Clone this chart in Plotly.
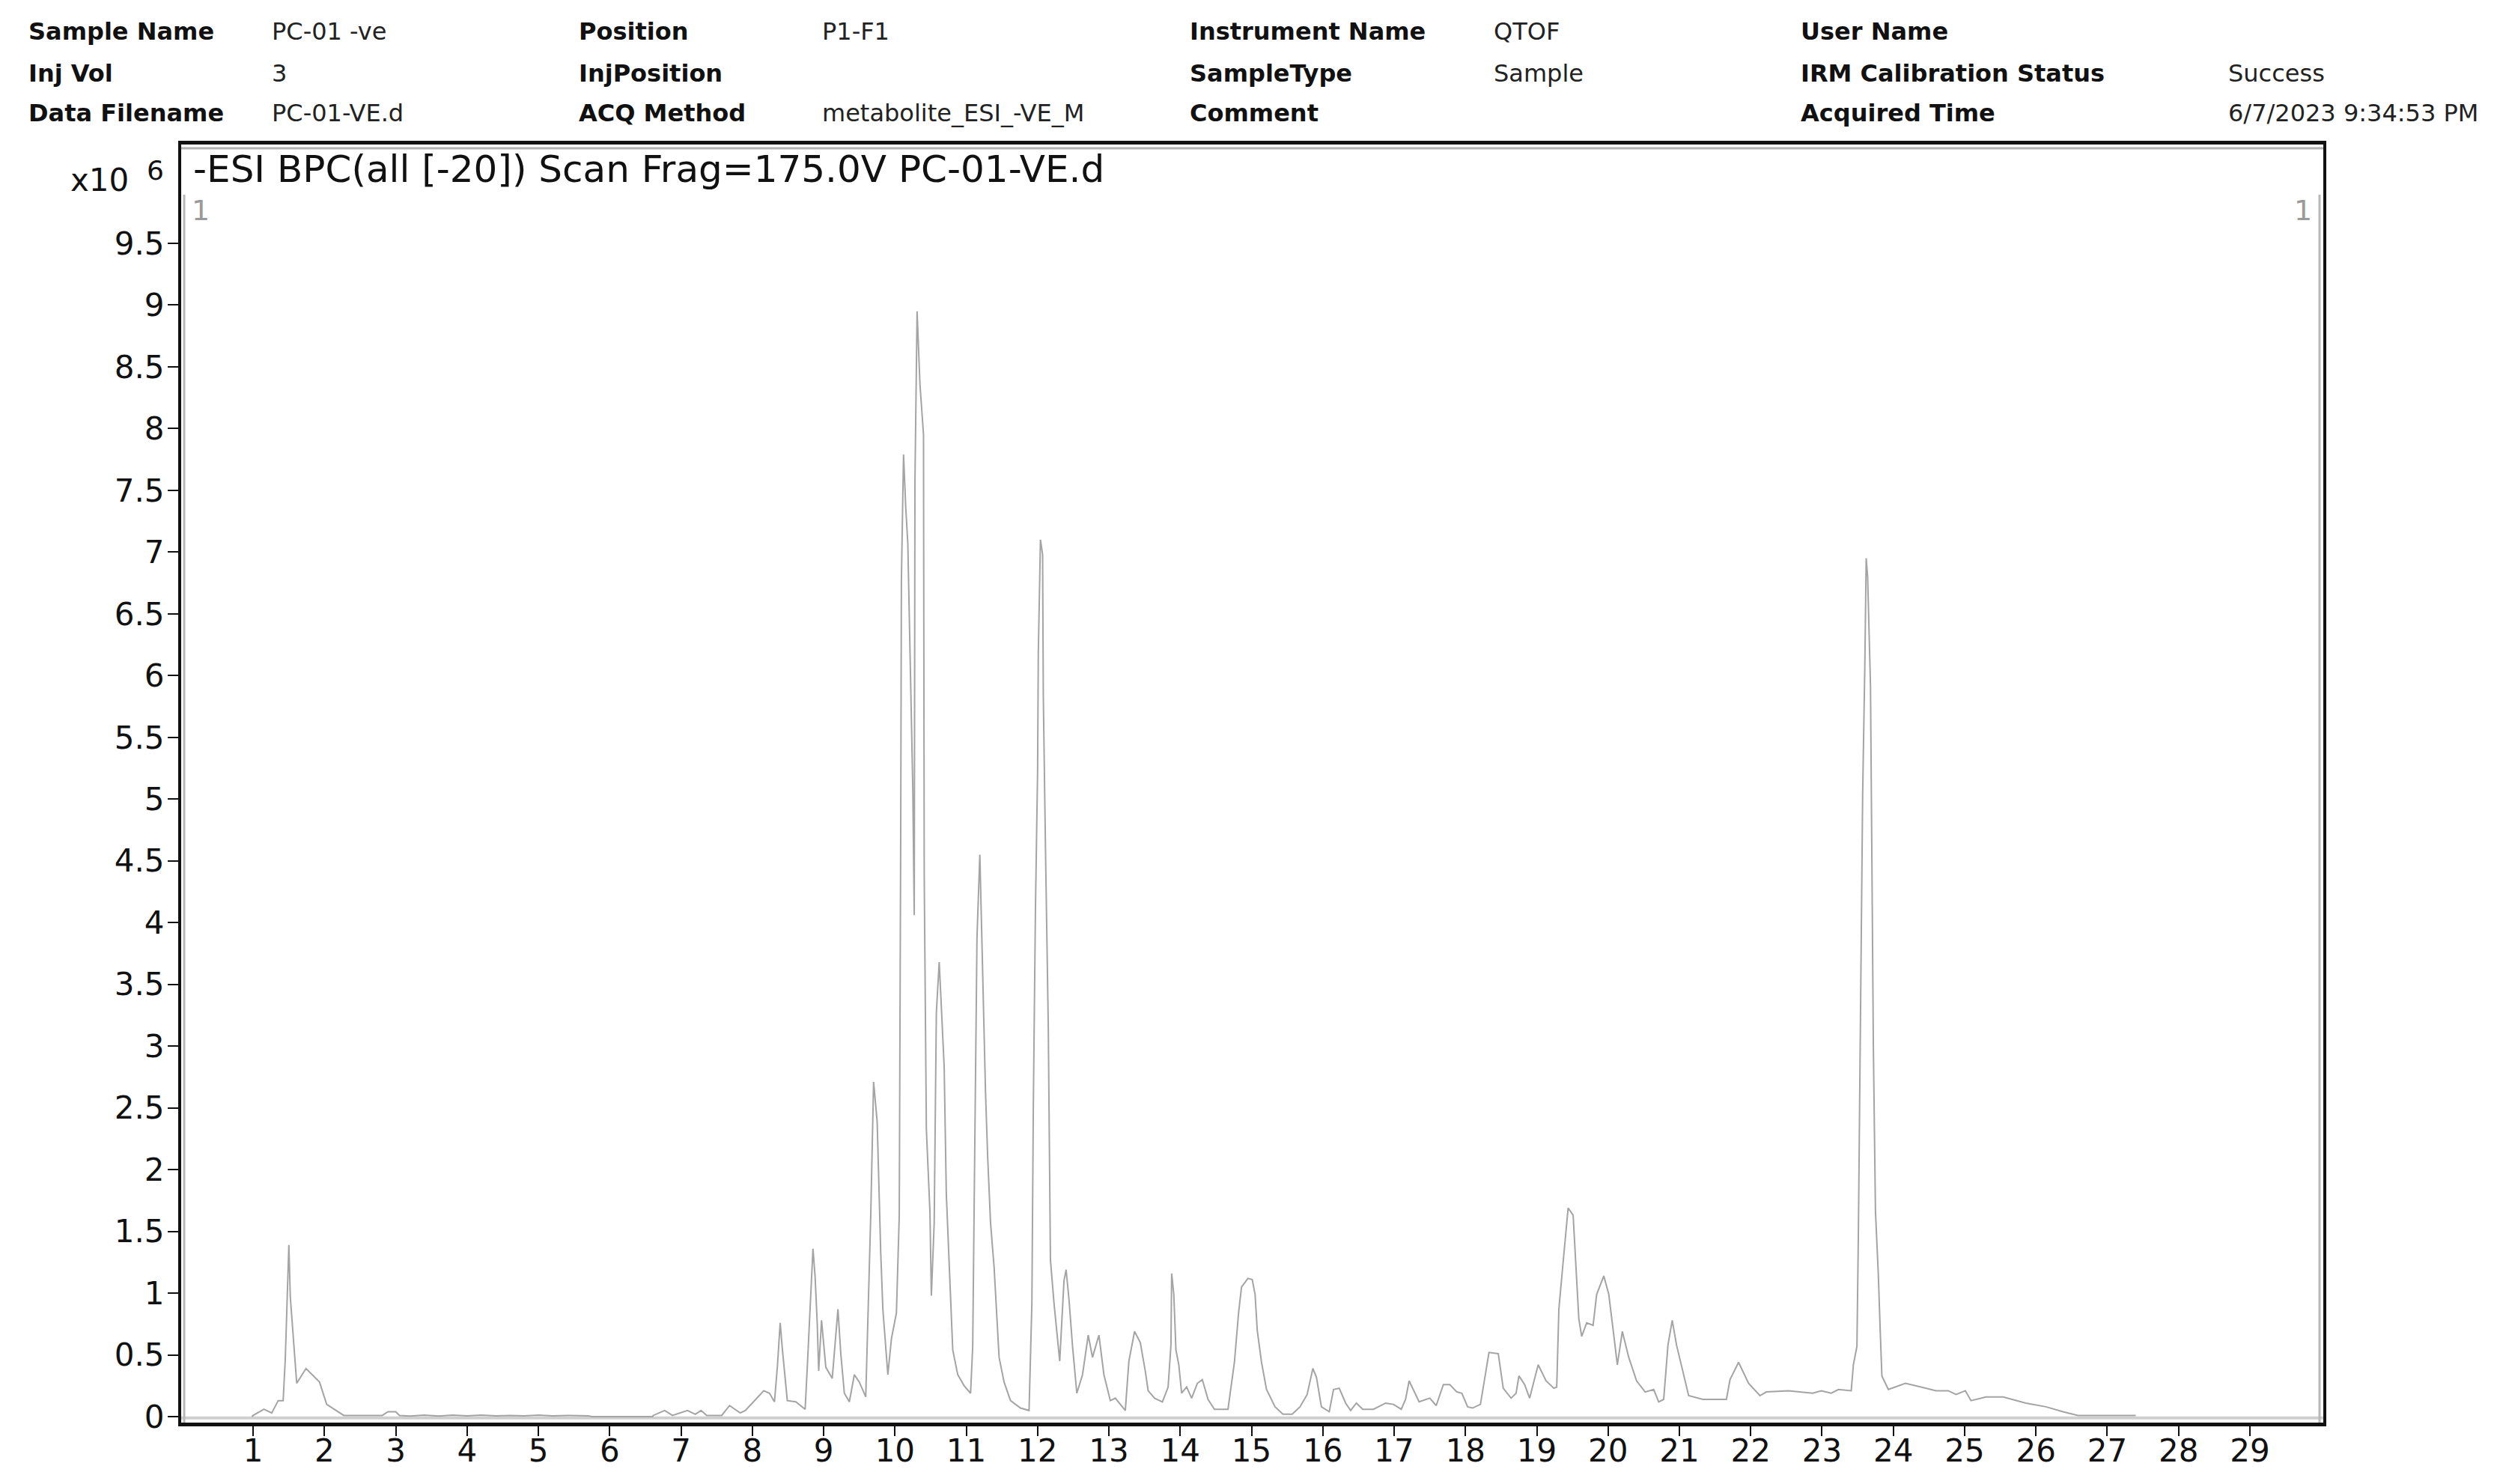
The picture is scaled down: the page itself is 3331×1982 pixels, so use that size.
import plotly.graph_objects as go

# retention time (min) and base peak intensity (x10^6 counts)
rt = [
    0.98, 1.00, 1.15, 1.26, 1.35, 1.42, 1.45, 1.48, 1.50, 1.52, 1.56, 1.61, 1.74, 1.93, 2.03,
    2.17, 2.27, 2.50, 2.81, 2.89, 3.00, 3.05, 3.20, 3.40, 3.60, 3.80, 4.00, 4.20, 4.40, 4.60,
    4.80, 5.00, 5.20, 5.40, 5.70, 5.75, 6.60, 6.61, 6.77, 6.88, 7.09, 7.20, 7.28, 7.36, 7.57,
    7.68, 7.83, 7.90, 8.00, 8.16, 8.24, 8.31, 8.35, 8.39, 8.42, 8.49, 8.61, 8.74, 8.77, 8.85,
    8.88, 8.91, 8.93, 8.97, 9.03, 9.12, 9.20, 9.24, 9.29, 9.36, 9.43, 9.50, 9.59, 9.62, 9.66,
    9.70, 9.75, 9.80, 9.83, 9.90, 9.95, 10.02, 10.06, 10.08, 10.09, 10.12, 10.15, 10.18, 10.21,
    10.25, 10.27, 10.28, 10.31, 10.35, 10.40, 10.41, 10.44, 10.49, 10.51, 10.55, 10.58, 10.62,
    10.65, 10.69, 10.72, 10.76, 10.81, 10.88, 10.97, 11.06, 11.09, 11.11, 11.13, 11.15, 11.19,
    11.21, 11.24, 11.27, 11.30, 11.34, 11.39, 11.43, 11.46, 11.53, 11.62, 11.76, 11.88, 11.92,
    11.94, 11.97, 12.00, 12.01, 12.04, 12.07, 12.08, 12.11, 12.15, 12.18, 12.23, 12.31, 12.37,
    12.40, 12.44, 12.49, 12.55, 12.63, 12.71, 12.77, 12.86, 12.93, 13.02, 13.09, 13.23, 13.28,
    13.36, 13.44, 13.51, 13.55, 13.64, 13.75, 13.83, 13.87, 13.88, 13.91, 13.94, 13.98, 14.02,
    14.09, 14.16, 14.24, 14.31, 14.39, 14.48, 14.67, 14.76, 14.82, 14.86, 14.95, 15.01, 15.05,
    15.08, 15.14, 15.21, 15.33, 15.44, 15.57, 15.68, 15.78, 15.86, 15.91, 15.98, 16.09, 16.15,
    16.23, 16.32, 16.39, 16.47, 16.56, 16.71, 16.88, 16.99, 17.10, 17.16, 17.21, 17.35, 17.50,
    17.59, 17.69, 17.78, 17.88, 17.95, 18.03, 18.10, 18.21, 18.33, 18.46, 18.53, 18.64, 18.71,
    18.75, 18.83, 18.90, 19.02, 19.13, 19.24, 19.28, 19.31, 19.36, 19.42, 19.44, 19.51, 19.54,
    19.59, 19.63, 19.70, 19.79, 19.84, 19.94, 20.01, 20.08, 20.13, 20.20, 20.29, 20.40, 20.52,
    20.64, 20.71, 20.78, 20.84, 20.90, 20.96, 21.13, 21.33, 21.66, 21.71, 21.83, 21.97, 22.13,
    22.22, 22.53, 22.87, 22.99, 23.13, 23.23, 23.41, 23.44, 23.49, 23.51, 23.55, 23.57, 23.60,
    23.62, 23.64, 23.68, 23.70, 23.72, 23.75, 23.79, 23.82, 23.84, 23.93, 24.17, 24.39, 24.60,
    24.77, 24.88, 25.01, 25.09, 25.30, 25.54, 25.86, 26.14, 26.38, 26.59, 27.40,
]
intensity = [
    0.00, 0.01, 0.06, 0.03, 0.13, 0.13, 0.47, 0.95, 1.39, 0.97, 0.67, 0.27, 0.39, 0.28, 0.10,
    0.05, 0.01, 0.01, 0.01, 0.04, 0.04, 0.01, 0.005, 0.012, 0.005, 0.012, 0.006, 0.012, 0.006, 0.010,
    0.006, 0.012, 0.006, 0.010, 0.006, 0.00, 0.00, 0.01, 0.05, 0.01, 0.05, 0.02, 0.05, 0.01, 0.01,
    0.09, 0.03, 0.05, 0.11, 0.21, 0.19, 0.12, 0.40, 0.76, 0.55, 0.13, 0.12, 0.06, 0.40, 1.36,
    1.13, 0.75, 0.37, 0.78, 0.40, 0.31, 0.87, 0.51, 0.19, 0.12, 0.34, 0.28, 0.16, 0.75, 1.63,
    2.71, 2.39, 1.33, 0.87, 0.34, 0.63, 0.84, 1.63, 4.67, 6.78, 7.79, 7.37, 7.07, 6.14,
    5.08, 4.06, 7.57, 8.95, 8.36, 7.95, 4.38, 2.33, 1.66, 0.98, 1.57, 3.27, 3.68,
    3.32, 2.83, 1.80, 1.21, 0.54, 0.34, 0.25, 0.19, 0.57, 1.69, 2.83, 3.88, 4.55,
    4.03, 3.44, 2.62, 2.10, 1.57, 1.21, 0.81, 0.48, 0.28, 0.13, 0.07, 0.05, 0.92,
    2.51, 4.12, 5.23, 6.19, 7.10, 6.98, 5.84, 4.62, 3.15, 1.27, 0.92, 0.45, 1.10,
    1.19, 0.95, 0.57, 0.19, 0.34, 0.66, 0.48, 0.66, 0.34, 0.13, 0.15, 0.05, 0.45,
    0.69, 0.60, 0.37, 0.21, 0.15, 0.12, 0.24, 0.58, 1.16, 0.99, 0.54, 0.42, 0.19,
    0.24, 0.15, 0.27, 0.30, 0.14, 0.06, 0.06, 0.44, 0.85, 1.05, 1.12, 1.11, 0.99,
    0.70, 0.44, 0.22, 0.08, 0.02, 0.02, 0.08, 0.18, 0.39, 0.32, 0.08, 0.04, 0.22,
    0.23, 0.11, 0.05, 0.11, 0.06, 0.06, 0.11, 0.10, 0.06, 0.14, 0.29, 0.12, 0.15,
    0.09, 0.26, 0.26, 0.20, 0.19, 0.08, 0.07, 0.10, 0.52, 0.51, 0.23, 0.15, 0.19,
    0.33, 0.26, 0.15, 0.42, 0.29, 0.23, 0.24, 0.87, 1.19, 1.59, 1.69, 1.63, 1.31,
    0.79, 0.65, 0.76, 0.74, 0.99, 1.14, 0.99, 0.66, 0.42, 0.69, 0.48, 0.29, 0.20,
    0.22, 0.12, 0.14, 0.58, 0.78, 0.58, 0.17, 0.14, 0.14, 0.30, 0.44, 0.27, 0.17,
    0.20, 0.21, 0.19, 0.21, 0.19, 0.22, 0.21, 0.42, 0.57, 1.47, 3.84, 5.03, 6.06,
    6.95, 6.80, 5.92, 4.49, 3.01, 1.66, 1.15, 0.64, 0.33, 0.22, 0.27, 0.24, 0.21,
    0.21, 0.18, 0.21, 0.13, 0.16, 0.16, 0.11, 0.08, 0.04, 0.01, 0.01,
]

x_tick_values = list(range(1, 30))
x_tick_labels = [str(v) for v in x_tick_values]
y_tick_values = [0, 0.5, 1, 1.5, 2, 2.5, 3, 3.5, 4, 4.5, 5, 5.5, 6, 6.5, 7, 7.5, 8, 8.5, 9, 9.5]
y_tick_labels = ["0", "0.5", "1", "1.5", "2", "2.5", "3", "3.5", "4", "4.5",
                 "5", "5.5", "6", "6.5", "7", "7.5", "8", "8.5", "9", "9.5"]

header_labels = [
    ["Sample Name", "Position", "Instrument Name", "User Name"],
    ["Inj Vol", "InjPosition", "SampleType", "IRM Calibration Status"],
    ["Data Filename", "ACQ Method", "Comment", "Acquired Time"],
]
header_values = [
    ["PC-01 -ve", "P1-F1", "QTOF", ""],
    ["3", "", "Sample", "Success"],
    ["PC-01-VE.d", "metabolite_ESI_-VE_M", "", "6/7/2023 9:34:53 PM"],
]
trace_title = "-ESI BPC(all [-20]) Scan Frag=175.0V PC-01-VE.d"

W, H = 3331, 1982
L, R, T, B = 242, 3103, 193, 1900
FONT = "DejaVu Sans"


def px(x):
    return (x - L) / (R - L)


def py(y):
    return (B - y) / (B - T)


fig = go.Figure()
fig.add_trace(go.Scatter(
    x=rt, y=intensity, mode="lines",
    line=dict(color="#a4a4a4", width=2),
    showlegend=False, hoverinfo="x+y",
))

# header block
label_x = [36, 771, 1587, 2403]
value_x = [361, 1096, 1993, 2974]
row_y = [42, 98, 151]
for r in range(3):
    for c in range(4):
        fig.add_annotation(x=px(label_x[c]), y=py(row_y[r]), xref="paper", yref="paper",
                           text="<b>" + header_labels[r][c] + "</b>", showarrow=False,
                           xanchor="left", yanchor="middle",
                           font=dict(family=FONT, size=32, color="#111"))
        if header_values[r][c]:
            fig.add_annotation(x=px(value_x[c]), y=py(row_y[r]), xref="paper", yref="paper",
                               text=header_values[r][c], showarrow=False,
                               xanchor="left", yanchor="middle",
                               font=dict(family=FONT, size=32, color="#222"))

fig.add_annotation(x=px(256), y=py(226), xref="paper", yref="paper", text=trace_title,
                   showarrow=False, xanchor="left", yanchor="middle",
                   font=dict(family=FONT, size=50, color="#111"))
fig.add_annotation(x=px(174), y=py(240), xref="paper", yref="paper", text="x10",
                   showarrow=False, xanchor="right", yanchor="middle",
                   font=dict(family=FONT, size=42, color="#111"))
fig.add_annotation(x=px(207), y=py(228), xref="paper", yref="paper", text="6",
                   showarrow=False, xanchor="center", yanchor="middle",
                   font=dict(family=FONT, size=36, color="#111"))
for xx in [268, 3076]:
    fig.add_annotation(x=px(xx), y=py(281), xref="paper", yref="paper", text="1",
                       showarrow=False, xanchor="center", yanchor="middle",
                       font=dict(family=FONT, size=38, color="#9a9a9a"))

# zero baseline and inner shading lines
fig.add_shape(type="line", xref="paper", yref="y", x0=0, x1=1, y0=-0.01, y1=-0.01,
              line=dict(color="#cfcfcf", width=4), layer="below")
fig.add_shape(type="line", xref="paper", yref="paper", x0=px(246), x1=px(246),
              y0=0, y1=py(260), line=dict(color="#b8b8b8", width=3), layer="below")
fig.add_shape(type="line", xref="paper", yref="paper", x0=px(3098), x1=px(3098),
              y0=0, y1=py(260), line=dict(color="#b8b8b8", width=3), layer="below")
fig.add_shape(type="line", xref="paper", yref="paper", x0=0, x1=1,
              y0=py(198), y1=py(198), line=dict(color="#b0b0b0", width=3), layer="below")

fig.update_xaxes(
    range=[-0.01, 30.03], tickvals=x_tick_values, ticktext=x_tick_labels,
    showline=True, linecolor="#111", linewidth=5, mirror=True,
    ticks="outside", ticklen=13, tickwidth=2, tickcolor="#111",
    ticklabelstandoff=-16,
    showgrid=False, zeroline=False,
    tickfont=dict(family=FONT, size=42, color="#111"),
)
fig.update_yaxes(
    range=[-0.048, 10.30], tickvals=y_tick_values, ticktext=y_tick_labels,
    showline=True, linecolor="#111", linewidth=4, mirror=True,
    ticks="outside", ticklen=14, tickwidth=2, tickcolor="#111",
    ticklabelstandoff=-4,
    showgrid=False, zeroline=False,
    tickfont=dict(family=FONT, size=42, color="#111"),
)
fig.update_layout(
    width=W, height=H,
    margin=dict(l=L, r=W - R, t=T, b=H - B),
    plot_bgcolor="white", paper_bgcolor="white",
    showlegend=False,
)

# drop the browser's default 8px page margin so the figure sits at the top-left corner
fig.write_html(
    "out.html",
    config={"displayModeBar": False},
    post_script="document.documentElement.style.margin='0';"
                "document.body.style.margin='0';"
                "document.documentElement.style.overflow='hidden';",
)
